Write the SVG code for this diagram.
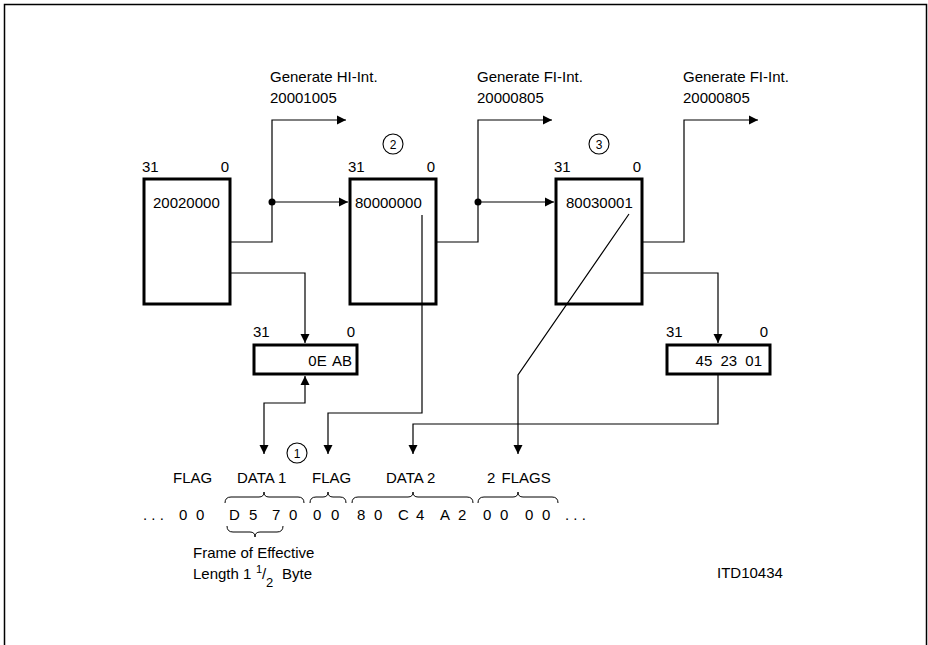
<svg xmlns="http://www.w3.org/2000/svg" width="928" height="645" viewBox="0 0 928 645">
<style>
text{font-family:"Liberation Sans",Arial,sans-serif;font-size:15px;fill:#000}
.box{fill:#fff;stroke:#000;stroke-width:3}
.ln{fill:none;stroke:#000;stroke-width:1.2}
.circ{fill:#fff;stroke:#000;stroke-width:1.1}
.cn{font-size:12px;text-anchor:middle}
.end{text-anchor:end}
.br{fill:none;stroke:#000;stroke-width:1}
</style>
<defs>
<marker id="ah" markerWidth="10" markerHeight="10" refX="9" refY="5" orient="auto-start-reverse" markerUnits="userSpaceOnUse">
<path d="M0,0.5 L9,5 L0,9.5 Z" fill="#000"/>
</marker>
</defs>
<rect x="4.5" y="4.5" width="922" height="660" fill="#fff" stroke="#000" stroke-width="1.5"/>

<g id="reg1">
<rect class="box" x="144" y="179" width="86" height="125"/>
<text x="142" y="172">31</text>
<text class="end" x="229" y="172">0</text>
<text x="153" y="208">20020000</text>
</g>
<g id="reg2">
<rect class="box" x="350" y="179" width="86" height="125"/>
<text x="348" y="172">31</text>
<text class="end" x="435" y="172">0</text>
<text x="355" y="208">80000000</text>
</g>
<g id="reg3">
<rect class="box" x="556" y="179" width="86" height="125"/>
<text x="554" y="172">31</text>
<text class="end" x="641" y="172">0</text>
<text x="566" y="208">80030001</text>
</g>
<g id="reg-0EAB">
<rect class="box" x="254" y="345" width="103" height="29"/>
<text x="253" y="337">31</text>
<text class="end" x="355" y="337">0</text>
<text class="end" x="352" y="366" word-spacing="2">0E AB</text>
</g>
<g id="reg-452301">
<rect class="box" x="667" y="345" width="103" height="29"/>
<text x="666" y="337">31</text>
<text class="end" x="768" y="337">0</text>
<text class="end" x="762" y="366" word-spacing="4">45 23 01</text>
</g>

<g id="connectors">
<path class="ln" d="M230,242 H272 V120 H346" marker-end="url(#ah)"/>
<path class="ln" d="M272,202 H348" marker-end="url(#ah)"/>
<circle cx="272" cy="202" r="3.5" fill="#000"/>
<path class="ln" d="M230,273 H305 V343" marker-end="url(#ah)"/>
<path class="ln" d="M436,242 H478 V120 H552" marker-end="url(#ah)"/>
<path class="ln" d="M478,202 H554" marker-end="url(#ah)"/>
<circle cx="478" cy="202" r="3.5" fill="#000"/>
<path class="ln" d="M422,215 V413 H328 V454" marker-end="url(#ah)"/>
<path class="ln" d="M643,242 H684 V120 H758" marker-end="url(#ah)"/>
<path class="ln" d="M643,273 H718 V343" marker-end="url(#ah)"/>
<path class="ln" d="M629,214 L518,375 V454" marker-end="url(#ah)"/>
<path class="ln" d="M718,375 V424 H413 V454" marker-end="url(#ah)"/>
<path class="ln" d="M264,454 V403 H305 V376" marker-start="url(#ah)" marker-end="url(#ah)"/>
</g>

<g id="label-hi">
<text x="270" y="82">Generate HI-Int.</text>
<text x="270" y="103">20001005</text>
</g>
<g id="label-fi1">
<text x="477" y="82">Generate FI-Int.</text>
<text x="477" y="103">20000805</text>
</g>
<g id="label-fi2">
<text x="683" y="82">Generate FI-Int.</text>
<text x="683" y="103">20000805</text>
</g>

<g id="mark2">
<circle class="circ" cx="393" cy="144" r="10"/>
<text class="cn" x="393" y="148.5">2</text>
</g>
<g id="mark3">
<circle class="circ" cx="599" cy="144" r="10"/>
<text class="cn" x="599" y="148.5">3</text>
</g>
<g id="mark1">
<circle class="circ" cx="297" cy="453" r="10"/>
<text class="cn" x="297" y="457.5">1</text>
</g>

<g id="frame-labels">
<text x="173" y="483">FLAG</text>
<text x="237" y="483">DATA 1</text>
<text x="312" y="483">FLAG</text>
<text x="386" y="483">DATA 2</text>
<text x="487" y="483" word-spacing="2">2 FLAGS</text>
</g>
<g id="braces">
<path class="br" d="M225,503 Q225,497 231,497 H259 Q264,497 264,492 Q264,497 269,497 H298 Q304,497 304,503"/>
<path class="br" d="M310,503 Q310,497 316,497 H323 Q328,497 328,492 Q328,497 333,497 H340 Q346,497 346,503"/>
<path class="br" d="M352,503 Q352,497 358,497 H408 Q413,497 413,492 Q413,497 418,497 H467 Q473,497 473,503"/>
<path class="br" d="M478,503 Q478,497 484,497 H513 Q518,497 518,492 Q518,497 523,497 H552 Q558,497 558,503"/>
<path class="br" d="M227,526 Q227,532 233,532 H250 Q255,532 255,537 Q255,532 260,532 H277 Q283,532 283,526"/>
</g>
<g id="frame-bytes">
<text x="143" y="520">. . .</text>
<text x="179 196" y="520">00</text>
<text x="229 249" y="520">D5</text>
<text x="272 289" y="520">70</text>
<text x="313 331" y="520">00</text>
<text x="357 374" y="520">80</text>
<text x="398 416" y="520">C4</text>
<text x="440 458" y="520">A2</text>
<text x="483 500" y="520">00</text>
<text x="525 542" y="520">00</text>
<text x="565" y="520">. . .</text>
</g>
<g id="frame-note">
<text x="193" y="558">Frame of Effective</text>
<text x="193" y="579">Length 1<tspan x="256" y="573" font-size="11">1</tspan><tspan x="262" y="579">/</tspan><tspan x="266" y="587" font-size="13">2</tspan><tspan x="282" y="579">Byte</tspan></text>
</g>
<text x="717" y="578" font-size="11">ITD10434</text>
</svg>
